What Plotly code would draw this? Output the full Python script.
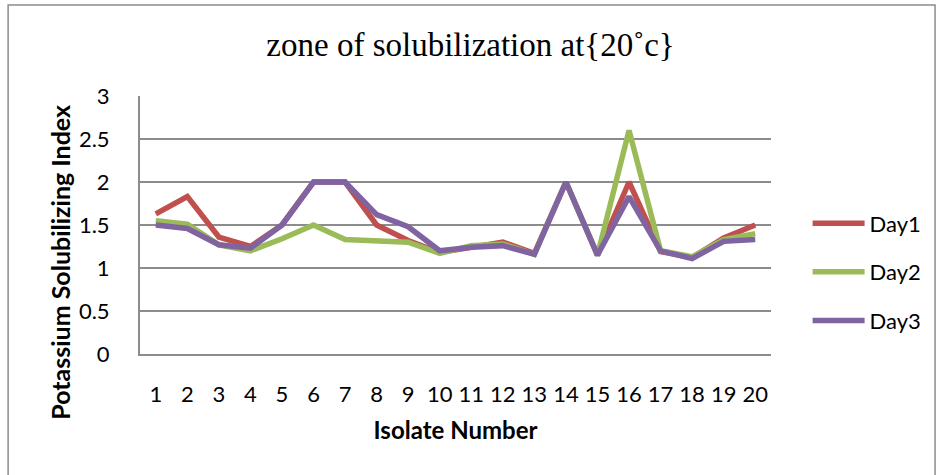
import plotly.graph_objects as go

isolates = [str(i) for i in range(1, 21)]
day1 = [1.63, 1.83, 1.36, 1.25, 1.50, 2.00, 2.00, 1.50, 1.32, 1.18, 1.24, 1.30, 1.17, 2.00, 1.15, 2.00, 1.19, 1.12, 1.35, 1.50]
day2 = [1.55, 1.51, 1.27, 1.20, 1.34, 1.50, 1.33, 1.32, 1.30, 1.17, 1.26, 1.28, 1.16, 2.00, 1.15, 2.60, 1.20, 1.13, 1.33, 1.40]
day3 = [1.50, 1.46, 1.27, 1.23, 1.50, 2.00, 2.00, 1.62, 1.48, 1.20, 1.24, 1.26, 1.16, 2.00, 1.15, 1.83, 1.20, 1.11, 1.31, 1.33]

series = [("Day1", day1, "#C0504D"), ("Day2", day2, "#9BBB59"), ("Day3", day3, "#8064A2")]

fig = go.Figure()
for i, (name, vals, col) in enumerate(series):
    fig.add_trace(go.Scatter(x=isolates, y=vals, name=name, mode="lines",
                             line=dict(color=col, width=5.5), legendgroup=f"g{i}"))

ui = "Lato, 'Open Sans', sans-serif"
fig.update_layout(
    width=941, height=475,
    margin=dict(l=140, r=170, t=96, b=121, autoexpand=False),
    paper_bgcolor="white", plot_bgcolor="white",
    title=dict(text="zone of solubilization at{20˚c}", x=0.5, xanchor="center", y=0.907, yanchor="middle",
               font=dict(family="'Liberation Serif', 'Times New Roman', serif", size=33, color="black")),
    showlegend=True,
    legend=dict(x=1.058, xanchor="left", y=0.318, yanchor="middle", font=dict(family=ui, size=22, color="black"),
                tracegroupgap=17, itemwidth=52, bgcolor="rgba(0,0,0,0)"),
    xaxis=dict(type="category", showgrid=False, showline=True, linecolor="#8c8c8c", linewidth=2,
               ticks="", tickfont=dict(family=ui, size=22, color="black"), ticklabelstandoff=20,
               title=dict(text="<b>Isolate Number</b>", font=dict(family=ui, size=24, color="black"), standoff=16),
               automargin=False, range=[-0.5, 19.5]),
    yaxis=dict(range=[0, 3], dtick=0.5, showgrid=True, gridcolor="#8c8c8c", gridwidth=2,
               showline=True, linecolor="#8c8c8c", linewidth=2, zeroline=False, ticks="",
               tickfont=dict(family=ui, size=22, color="black"), ticklabelstandoff=24, automargin=False),
)
fig.add_annotation(text="<b>Potassium Solubilizing Index</b>", xref="paper", yref="paper",
                   x=-0.127, y=0.357, xanchor="center", yanchor="middle", textangle=-90, showarrow=False,
                   font=dict(family=ui, size=25, color="black"))
fig.add_shape(type="rect", xref="paper", yref="paper", x0=-0.209, x1=1.26, y0=-0.5, y1=1.353,
              line=dict(color="#8c8c8c", width=1.5), fillcolor="rgba(0,0,0,0)", layer="below")
fig.write_html("out.html", config={"displayModeBar": False},
               post_script="document.body.style.margin='0';")
